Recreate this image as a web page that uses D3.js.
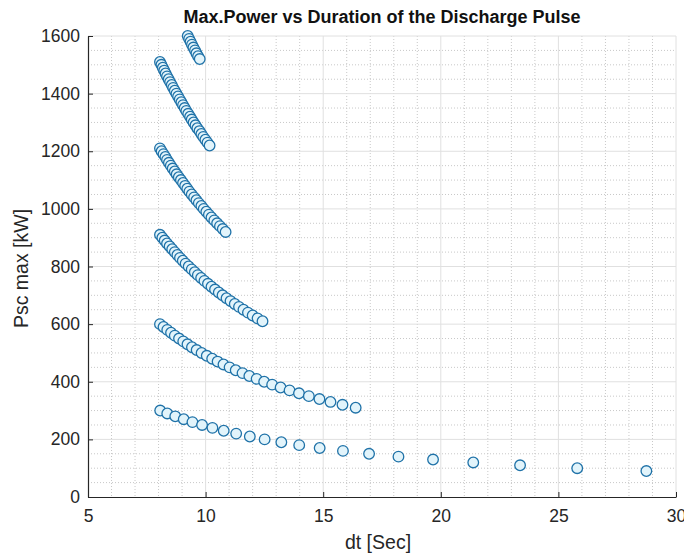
<!DOCTYPE html>
<html>
<head>
<meta charset="utf-8">
<script src="https://cdn.jsdelivr.net/npm/d3@7"></script>
<style>
  body { margin: 0; background: #fff; }
  svg { display: block; font-family: "Liberation Sans", Arial, sans-serif; }
</style>
</head>
<body>
<svg id="chart"></svg>
<script>
const width = 684;
const height = 558;
const margin = {top: 36, right: 8, bottom: 61, left: 88};

// power levels [kW] and pulse durations [s], one pair of arrays per curve
const p1 = [300, 290, 280, 270, 260, 250, 240, 230, 220, 210, 200, 190, 180, 170, 160, 150, 140, 130, 120, 110, 100, 90];
const dt1 = [8.07, 8.37, 8.71, 9.07, 9.44, 9.85, 10.29, 10.77, 11.30, 11.88, 12.51, 13.22, 13.98, 14.85, 15.84, 16.95, 18.20, 19.67, 21.38, 23.37, 25.80, 28.74];

const p2 = [600, 590, 580, 570, 560, 550, 540, 530, 520, 510, 500, 490, 480, 470, 460, 450, 440, 430, 420, 410, 400, 390, 380, 370, 360, 350, 340, 330, 320, 310];
const dt2 = [8.06, 8.21, 8.37, 8.53, 8.69, 8.87, 9.05, 9.23, 9.42, 9.62, 9.83, 10.05, 10.28, 10.51, 10.76, 11.02, 11.28, 11.57, 11.86, 12.17, 12.49, 12.83, 13.19, 13.57, 13.97, 14.39, 14.84, 15.31, 15.82, 16.38];

const p3 = [910, 900, 890, 880, 870, 860, 850, 840, 830, 820, 810, 800, 790, 780, 770, 760, 750, 740, 730, 720, 710, 700, 690, 680, 670, 660, 650, 640, 630, 620, 610];
const dt3 = [8.06, 8.16, 8.26, 8.36, 8.47, 8.58, 8.69, 8.80, 8.91, 9.03, 9.15, 9.28, 9.41, 9.54, 9.67, 9.81, 9.95, 10.10, 10.25, 10.40, 10.56, 10.72, 10.89, 11.06, 11.24, 11.42, 11.61, 11.80, 12.00, 12.21, 12.42];

const p4 = [1210, 1200, 1190, 1180, 1170, 1160, 1150, 1140, 1130, 1120, 1110, 1100, 1090, 1080, 1070, 1060, 1050, 1040, 1030, 1020, 1010, 1000, 990, 980, 970, 960, 950, 940, 930, 920];
const dt4 = [8.06, 8.13, 8.21, 8.29, 8.36, 8.44, 8.52, 8.60, 8.69, 8.77, 8.86, 8.95, 9.04, 9.13, 9.22, 9.31, 9.41, 9.51, 9.61, 9.71, 9.82, 9.92, 10.03, 10.14, 10.25, 10.37, 10.49, 10.61, 10.73, 10.85];

const p5 = [1510, 1500, 1490, 1480, 1470, 1460, 1450, 1440, 1430, 1420, 1410, 1400, 1390, 1380, 1370, 1360, 1350, 1340, 1330, 1320, 1310, 1300, 1290, 1280, 1270, 1260, 1250, 1240, 1230, 1220];
const dt5 = [8.06, 8.12, 8.18, 8.24, 8.30, 8.36, 8.43, 8.49, 8.56, 8.62, 8.69, 8.76, 8.83, 8.90, 8.97, 9.04, 9.11, 9.18, 9.26, 9.34, 9.41, 9.49, 9.57, 9.65, 9.74, 9.82, 9.90, 9.99, 10.08, 10.17];

const p6 = [1600, 1590, 1580, 1570, 1560, 1550, 1540, 1530, 1520];
const dt6 = [9.24, 9.30, 9.36, 9.42, 9.48, 9.55, 9.61, 9.68, 9.75];

const xTicks = [5, 10, 15, 20, 25, 30];
const yTicks = [0, 200, 400, 600, 800, 1000, 1200, 1400, 1600];

const curves = [[p1, dt1], [p2, dt2], [p3, dt3], [p4, dt4], [p5, dt5], [p6, dt6]];
const points = curves.flatMap(([p, t]) => p.map((v, i) => ({dt: t[i], p: v})));

const innerW = width - margin.left - margin.right;
const innerH = height - margin.top - margin.bottom;

const svg = d3.select("#chart")
    .attr("width", width)
    .attr("height", height);

const g = svg.append("g")
    .attr("transform", `translate(${margin.left},${margin.top})`);

const x = d3.scaleLinear().domain([5, 30]).range([0, innerW]);
const y = d3.scaleLinear().domain([0, 1600]).range([innerH, 0]);

// minor grid (dotted)
g.append("g")
    .selectAll("line")
    .data(d3.range(6, 30, 1).filter(v => v % 5 !== 0))
    .join("line")
    .attr("x1", d => x(d)).attr("x2", d => x(d))
    .attr("y1", 0).attr("y2", innerH)
    .attr("stroke", "#c8c8c8")
    .attr("stroke-dasharray", "1,2");

g.append("g")
    .selectAll("line")
    .data(d3.range(50, 1600, 50).filter(v => v % 200 !== 0))
    .join("line")
    .attr("x1", 0).attr("x2", innerW)
    .attr("y1", d => y(d)).attr("y2", d => y(d))
    .attr("stroke", "#c8c8c8")
    .attr("stroke-dasharray", "1,2");

// major grid
g.append("g")
    .selectAll("line")
    .data(xTicks.slice(1))
    .join("line")
    .attr("x1", d => x(d)).attr("x2", d => x(d))
    .attr("y1", 0).attr("y2", innerH)
    .attr("stroke", "#e0e0e0");

g.append("g")
    .selectAll("line")
    .data(yTicks.slice(1))
    .join("line")
    .attr("x1", 0).attr("x2", innerW)
    .attr("y1", d => y(d)).attr("y2", d => y(d))
    .attr("stroke", "#e0e0e0");

// axes, MATLAB style ticks pointing inward
const xAxis = g.append("g")
    .attr("transform", `translate(0,${innerH})`)
    .call(d3.axisBottom(x).tickValues(xTicks).tickFormat(d3.format("d"))
        .tickSizeInner(-5).tickSizeOuter(0).tickPadding(13));

const yAxis = g.append("g")
    .call(d3.axisLeft(y).tickValues(yTicks).tickFormat(d3.format("d"))
        .tickSizeInner(-5).tickSizeOuter(0).tickPadding(8));

[xAxis, yAxis].forEach(a => {
    a.select(".domain").attr("stroke", "#262626").attr("stroke-width", 1.2);
    a.selectAll(".tick line").attr("stroke", "#262626");
    a.selectAll(".tick text")
        .attr("fill", "#262626")
        .style("font-size", "17.5px");
});

// data markers
g.append("g")
    .selectAll("circle")
    .data(points)
    .join("circle")
    .attr("cx", d => x(d.dt))
    .attr("cy", d => y(d.p))
    .attr("r", 5.3)
    .attr("fill", "#e2f4fb")
    .attr("stroke", "#1f72a8")
    .attr("stroke-width", 1.3);

// labels
svg.append("text")
    .attr("x", margin.left + innerW / 2)
    .attr("y", 23)
    .attr("text-anchor", "middle")
    .attr("fill", "#111")
    .style("font-size", "18px")
    .style("font-weight", "bold")
    .text("Max.Power vs Duration of the Discharge Pulse");

svg.append("text")
    .attr("x", margin.left + innerW / 2 - 4)
    .attr("y", 549)
    .attr("text-anchor", "middle")
    .attr("fill", "#262626")
    .style("font-size", "19.5px")
    .text("dt [Sec]");

svg.append("text")
    .attr("transform", `translate(28,${margin.top + innerH / 2 + 2}) rotate(-90)`)
    .attr("text-anchor", "middle")
    .attr("fill", "#262626")
    .style("font-size", "19.5px")
    .text("Psc max [kW]");
</script>
</body>
</html>
